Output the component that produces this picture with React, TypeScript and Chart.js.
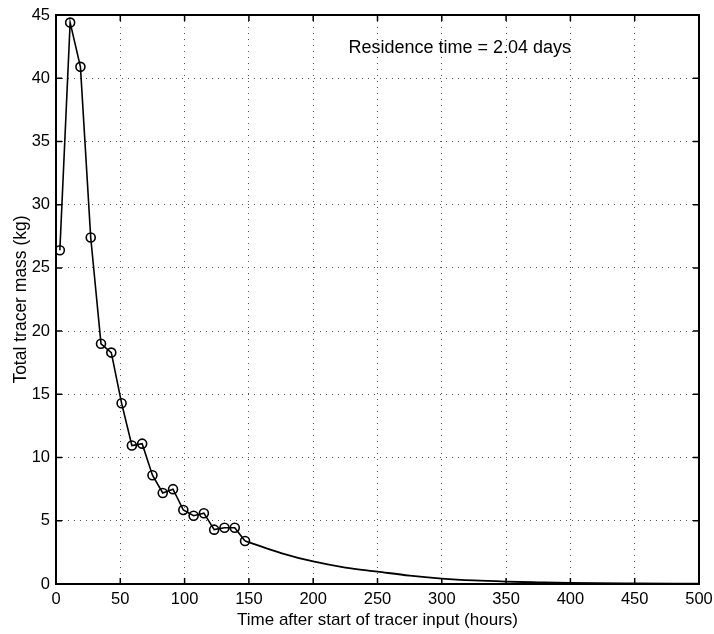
import React, { useEffect, useRef } from "react";
import { Chart, registerables } from "chart.js";

Chart.register(...registerables);

// Measured samples (hours, kg)
const sampleTimes = [3, 11, 19, 27, 35, 43, 51, 59, 67, 75, 83, 91, 99, 107, 115, 123, 131, 139, 147];
const sampleMass = [26.4, 44.4, 40.9, 27.4, 19.0, 18.3, 14.3, 10.95, 11.1, 8.6, 7.2, 7.5, 5.85, 5.4, 5.6, 4.3, 4.45, 4.45, 3.4];

// Fitted tail curve (hours, kg)
const tailTimes = [147, 160, 175, 200, 225, 250, 275, 300, 325, 350, 375, 400, 450, 500];
const tailMass = [3.4, 2.95, 2.45, 1.78, 1.3, 0.98, 0.66, 0.43, 0.28, 0.19, 0.13, 0.08, 0.04, 0.02];

const xTicks = [0, 50, 100, 150, 200, 250, 300, 350, 400, 450, 500];
const yTicks = [0, 5, 10, 15, 20, 25, 30, 35, 40, 45];

const annotationText = "Residence time = 2.04 days";
const annotationAt = { x: 314, y: 42.4 };

const FONT = "'Liberation Sans', Arial, Helvetica, sans-serif";

const frameTicks = {
  id: "frameTicks",
  afterDatasetsDraw(chart: any) {
    const { ctx, chartArea, scales } = chart;
    const { left, right, top, bottom } = chartArea;
    const L = 6;
    ctx.save();
    ctx.strokeStyle = "#000";
    ctx.lineWidth = 1.5;
    ctx.beginPath();
    xTicks.forEach((v) => {
      const px = scales.x.getPixelForValue(v);
      ctx.moveTo(px, bottom);
      ctx.lineTo(px, bottom - L);
      ctx.moveTo(px, top);
      ctx.lineTo(px, top + L);
    });
    yTicks.forEach((v) => {
      const py = scales.y.getPixelForValue(v);
      ctx.moveTo(left, py);
      ctx.lineTo(left + L, py);
      ctx.moveTo(right, py);
      ctx.lineTo(right - L, py);
    });
    ctx.stroke();
    ctx.lineWidth = 2;
    ctx.strokeRect(left, top, right - left, bottom - top);
    ctx.fillStyle = "#000";
    ctx.font = `18px ${FONT}`;
    ctx.textAlign = "center";
    ctx.textBaseline = "middle";
    ctx.fillText(
      annotationText,
      scales.x.getPixelForValue(annotationAt.x),
      scales.y.getPixelForValue(annotationAt.y)
    );
    ctx.restore();
  },
};

export default function App() {
  const ref = useRef<HTMLCanvasElement | null>(null);
  useEffect(() => {
    document.body.style.margin = "0";
    const canvas = ref.current!;
    const chart = new Chart(canvas, {
      type: "scatter",
      data: {
        datasets: [
          {
            data: sampleTimes.map((t, i) => ({ x: t, y: sampleMass[i] })),
            showLine: true,
            borderColor: "#000",
            borderWidth: 1.6,
            pointRadius: 4.5,
            pointBorderWidth: 1.6,
            pointBorderColor: "#000",
            pointBackgroundColor: "rgba(0,0,0,0)",
            tension: 0,
          },
          {
            data: tailTimes.map((t, i) => ({ x: t, y: tailMass[i] })),
            showLine: true,
            borderColor: "#000",
            borderWidth: 1.8,
            pointRadius: 0,
            cubicInterpolationMode: "monotone",
          },
        ],
      },
      options: {
        responsive: false,
        animation: false,
        layout: { padding: { top: 15, right: 0, left: 0, bottom: 0 } },
        plugins: { legend: { display: false }, tooltip: { enabled: false } },
        scales: {
          x: {
            type: "linear",
            min: 0,
            max: 500,
            afterBuildTicks: (s: any) => {
              s.ticks = xTicks.map((v) => ({ value: v }));
            },
            afterFit: (s: any) => {
              s.height = 50;
              s.paddingLeft = 0;
              s.paddingRight = 15;
            },
            grid: {
              drawTicks: false,
              color: "#555",
              lineWidth: 1,
            },
            border: { display: false, dash: [1, 5] },
            ticks: {
              color: "#000",
              font: { family: FONT, size: 16.5 },
              padding: 6,
              maxRotation: 0,
            },
            title: {
              display: true,
              text: "Time after start of tracer input (hours)",
              color: "#000",
              font: { family: FONT, size: 17 },
              padding: { top: 0, bottom: 3 },
            },
          },
          y: {
            type: "linear",
            min: 0,
            max: 45,
            afterBuildTicks: (s: any) => {
              s.ticks = yTicks.map((v) => ({ value: v }));
            },
            afterFit: (s: any) => {
              s.width = 56;
              s.paddingTop = 0;
              s.paddingBottom = 0;
            },
            grid: {
              drawTicks: false,
              color: "#555",
              lineWidth: 1,
            },
            border: { display: false, dash: [1, 5] },
            ticks: {
              color: "#000",
              font: { family: FONT, size: 16.5 },
              padding: 6,
            },
            title: {
              display: true,
              text: "Total tracer mass (kg)",
              color: "#000",
              font: { family: FONT, size: 17.5 },
              padding: { top: 11, bottom: 0 },
            },
          },
        },
      },
      plugins: [frameTicks],
    } as any);
    return () => chart.destroy();
  }, []);
  return (
    <div style={{ position: "absolute", left: 0, top: 0, width: 714, height: 634, background: "#fff" }}>
      <canvas ref={ref} width={714} height={634} />
    </div>
  );
}
